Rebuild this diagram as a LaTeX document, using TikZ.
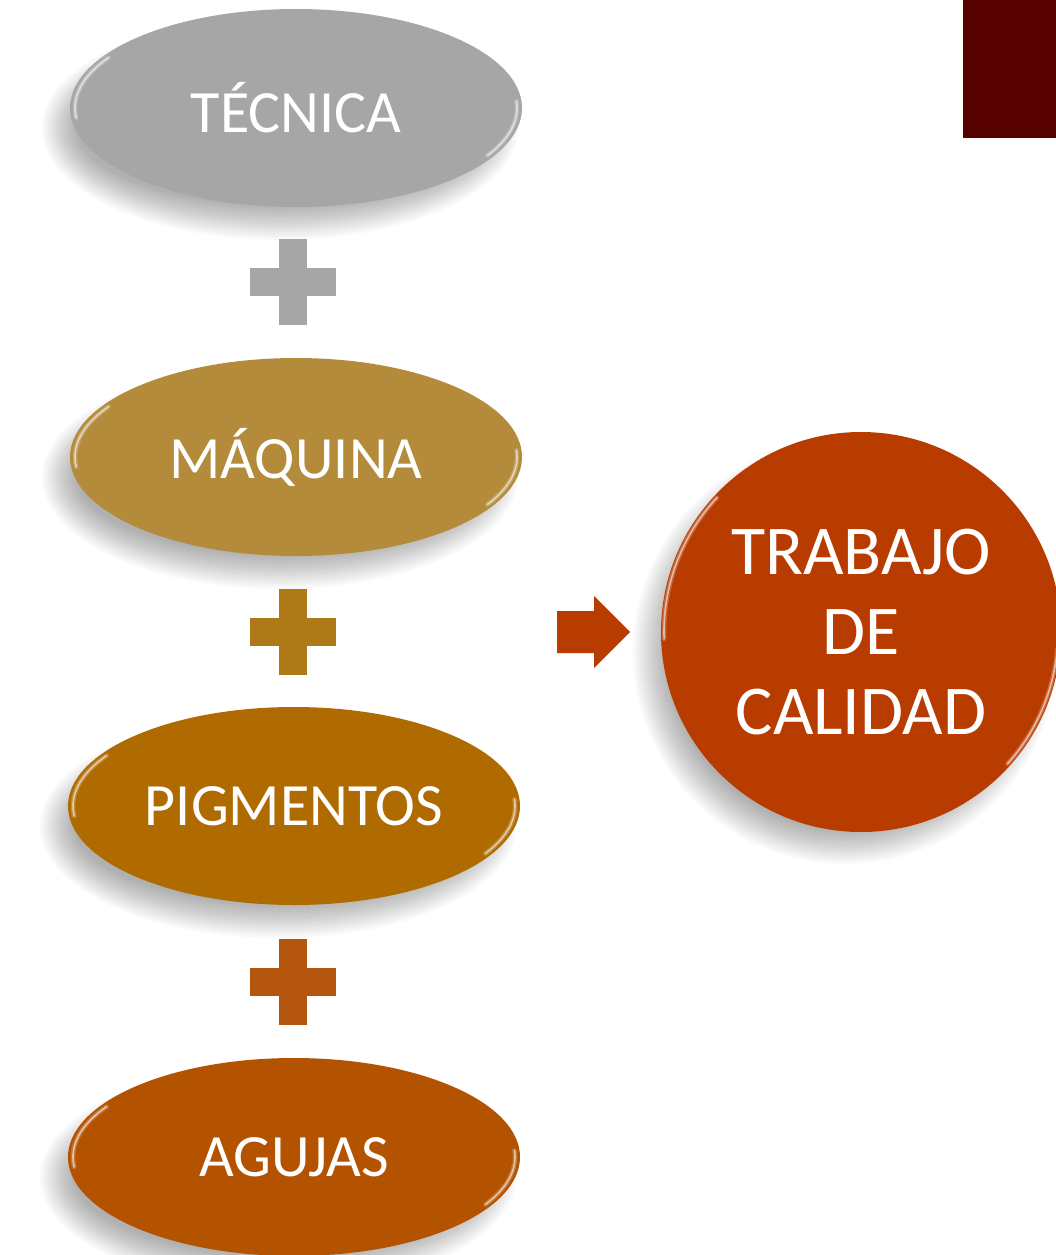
\documentclass[tikz,border=0pt]{standalone}
\usepackage{fontspec}
\setmainfont{Carlito}
\usetikzlibrary{shapes.geometric,calc}
\definecolor{cTec}{HTML}{A6A6A6}
\definecolor{cMaq}{HTML}{B38B3B}
\definecolor{cPlus2}{HTML}{AD7A17}
\definecolor{cPig}{HTML}{B06B00}
\definecolor{cPlus3}{HTML}{B5560F}
\definecolor{cAgu}{HTML}{B35300}
\definecolor{cRes}{HTML}{B83C00}
\definecolor{cDark}{HTML}{570000}
\tikzset{
  pill/.style={ellipse, minimum width=452pt, minimum height=198pt, inner sep=0pt,
    text=white, font=\fontsize{60}{70}\selectfont},
  result/.style={circle, minimum size=400pt, inner sep=0pt, align=center,
    text=white, font=\fontsize{70}{80}\selectfont},
  rimwide/.style={white, line width=4.5pt, opacity=0.22, line cap=round},
  rim/.style={white, line width=1.6pt, opacity=0.55, line cap=round},
  shadowpiece/.style={fill=black, opacity=0.022},
}
\newcommand{\mysoftshadow}[4]{%
  \foreach \k in {0,...,13}{
    \fill[shadowpiece] (#1,#2) ellipse[x radius={#3+16-2.6*\k}, y radius={#4+16-2.6*\k}];
  }%
}
\newcommand{\myrim}[5]{% center, xr, yr, start, end
  \draw[rimwide] ($(#1)+(#4:#2pt and #3pt)$) arc[start angle=#4, end angle=#5, x radius=#2pt, y radius=#3pt];
  \draw[rim] ($(#1)+(#4:#2pt and #3pt)$) arc[start angle=#4, end angle=#5, x radius=#2pt, y radius=#3pt];
}
\begin{document}
\begin{tikzpicture}[x=1pt,y=-1pt]
\useasboundingbox (0,0) rectangle (1056,1255);
\fill[white] (0,0) rectangle (1056,1255);
% dark block top right
\fill[cDark] (963,0) rectangle (1056,138);

% shadows
\mysoftshadow{280}{128}{222}{96}
\mysoftshadow{280}{477}{222}{96}
\mysoftshadow{278}{826}{222}{96}
\mysoftshadow{278}{1177}{222}{96}
\mysoftshadow{845}{652}{196}{196}

% ellipses
\node[pill, fill=cTec] (tec) at (296,108) {TÉCNICA};
\node[pill, fill=cMaq] (maq) at (296,457) {MÁQUINA};
\node[pill, fill=cPig] (pig) at (294,806) {PIGMENTOS};
\node[pill, fill=cAgu] (agu) at (294,1157) {AGUJAS};

% glossy rims
\foreach \n in {tec,maq,pig,agu}{
  \myrim{\n.center}{221}{95}{186}{148}
  \myrim{\n.center}{221}{95}{4}{-30}
}

% plus signs
\coordinate (p1) at (292.5,282);
\coordinate (p2) at (292.5,632);
\coordinate (p3) at (292.5,982);
\fill[cTec] ($(p1)+(-43,-14)$) rectangle ($(p1)+(43,14)$);
\fill[cTec] ($(p1)+(-14,-43)$) rectangle ($(p1)+(14,43)$);
\fill[cPlus2] ($(p2)+(-43,-14)$) rectangle ($(p2)+(43,14)$);
\fill[cPlus2] ($(p2)+(-14,-43)$) rectangle ($(p2)+(14,43)$);
\fill[cPlus3] ($(p3)+(-43,-14)$) rectangle ($(p3)+(43,14)$);
\fill[cPlus3] ($(p3)+(-14,-43)$) rectangle ($(p3)+(14,43)$);

% result circle
\node[result, fill=cRes] (res) at (861,632) {TRABAJO\\DE\\CALIDAD};
\myrim{res.center}{197}{197}{182}{137}
\myrim{res.center}{197}{197}{-5}{-42}

% block arrow
\coordinate (a0) at (557,632);
\fill[cRes] ($(a0)+(0,-21)$) -- ($(a0)+(37,-21)$) -- ($(a0)+(37,-36)$) -- ($(a0)+(73,0)$)
  -- ($(a0)+(37,36)$) -- ($(a0)+(37,21)$) -- ($(a0)+(0,21)$) -- cycle;
\end{tikzpicture}
\end{document}
